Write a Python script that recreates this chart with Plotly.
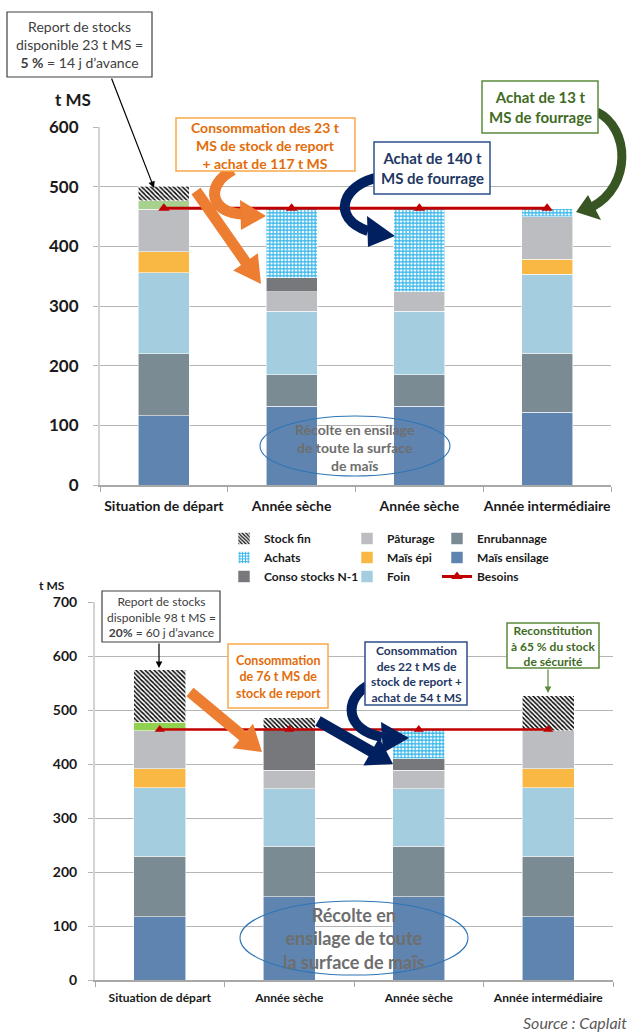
import math
import plotly.graph_objects as go

W, H = 630, 1032

# ---------------- data ----------------
categories = ["Situation de départ", "Année sèche", "Année sèche", "Année intermédiaire"]

top_mais_ensilage = [116, 132, 132, 122]
top_enrubannage = [104, 53, 53, 99]
top_foin = [136, 106, 106, 132]
top_mais_epi = [35, 0, 0, 25]
top_paturage = [71, 33, 33, 72]
top_conso_n1 = [0, 23, 0, 0]
top_achats = [0, 117, 140, 13]
top_securite = [14, 0, 0, 0]
top_stock_fin = [25, 0, 0, 0]
top_besoins = [464, 464, 464, 464]

bot_mais_ensilage = [117, 154, 154, 117]
bot_enrubannage = [112, 94, 94, 112]
bot_foin = [127, 106, 106, 127]
bot_mais_epi = [35, 0, 0, 35]
bot_paturage = [71, 34, 34, 71]
bot_conso_n1 = [0, 76, 22, 0]
bot_achats = [0, 0, 54, 0]
bot_securite = [15, 0, 0, 0]
bot_stock_fin = [98, 22, 0, 64]
bot_besoins = [464, 464, 464, 464]

top_ticks = [0, 100, 200, 300, 400, 500, 600]
bot_ticks = [0, 100, 200, 300, 400, 500, 600, 700]

# ---------------- helpers ----------------
FONT = "Lato"
def px(x):
    return x / W
def py(y):
    return 1 - y / H

def nz(vals):
    return [v if v else None for v in vals]

xpos = list(range(len(categories)))

series_styles = [
    # key, name, color, pattern, legend, rank
    ("mais_ensilage", "Maïs ensilage", "#5F84AF", None, "legend3", 2),
    ("enrubannage", "Enrubannage", "#7A8B94", None, "legend3", 1),
    ("foin", "Foin", "#A5CDE0", None, "legend2", 3),
    ("mais_epi", "Maïs épi", "#F9B844", None, "legend2", 2),
    ("paturage", "Pâturage", "#BCBDC1", None, "legend2", 1),
    ("conso_n1", "Conso stocks N-1", "#77787C", None, "legend", 3),
    ("achats", "Achats", "#2FB3EA", dict(shape="+", fgcolor="#2FB3EA", bgcolor="white", size=3.5, solidity=0.55), "legend", 2),
    ("securite", "Stock de sécurité", None, None, None, 9),
    ("stock_fin", "Stock fin", "#000000", dict(shape="\\", fgcolor="black", bgcolor="white", size=3.2, solidity=0.45), "legend", 1),
]

top_data = dict(mais_ensilage=top_mais_ensilage, enrubannage=top_enrubannage, foin=top_foin,
                mais_epi=top_mais_epi, paturage=top_paturage, conso_n1=top_conso_n1,
                achats=top_achats, securite=top_securite, stock_fin=top_stock_fin)
bot_data = dict(mais_ensilage=bot_mais_ensilage, enrubannage=bot_enrubannage, foin=bot_foin,
                mais_epi=bot_mais_epi, paturage=bot_paturage, conso_n1=bot_conso_n1,
                achats=bot_achats, securite=bot_securite, stock_fin=bot_stock_fin)

fig = go.Figure()

for panel, data, xa, ya, green in (("top", top_data, "x", "y", "#A9D18E"),
                                    ("bot", bot_data, "x2", "y2", "#92D050")):
    for key, name, color, pattern, leg, rank in series_styles:
        col = green if key == "securite" else color
        marker = dict(color=col if pattern is None else "white",
                      line=dict(width=0.8, color="rgba(255,255,255,0.7)"))
        if pattern is not None:
            marker["pattern"] = pattern
        show = (panel == "top") and leg is not None
        kw = dict(legend=leg, legendrank=rank) if show else {}
        fig.add_trace(go.Bar(x=xpos, y=nz(data[key]), name=name, marker=marker,
                             xaxis=xa, yaxis=ya, showlegend=show, hoverinfo="name+y", **kw))

fig.add_trace(go.Scatter(x=xpos, y=top_besoins, name="Besoins", mode="lines+markers",
                         line=dict(color="#C00000", width=3),
                         marker=dict(symbol="triangle-up", size=10, color="#C00000"),
                         xaxis="x", yaxis="y", legend="legend3", legendrank=3))
fig.add_trace(go.Scatter(x=xpos, y=bot_besoins, name="Besoins", mode="lines+markers",
                         line=dict(color="#C00000", width=2.5),
                         marker=dict(symbol="triangle-up", size=9, color="#C00000"),
                         xaxis="x2", yaxis="y2", showlegend=False))

# ---------------- axes ----------------
GRID = "#B5B5B5"
def xaxis_cfg(domain, size, standoff):
    return dict(domain=domain, range=[-0.5, 3.5], tickmode="array", tickvals=xpos,
                ticktext=categories, ticks="", showgrid=False, zeroline=False,
                showline=True, linecolor="#A8A8A8", linewidth=1.5,
                tickfont=dict(family=FONT, size=size, color="#1A1A1A", weight="bold"),
                ticklabelstandoff=standoff,
                minor=dict(tickmode="linear", tick0=-0.5, dtick=1, ticks="outside",
                           ticklen=5, tickcolor="#A8A8A8", tickwidth=1.2, showgrid=False),
                automargin=False, fixedrange=True)

def yaxis_cfg(domain, rng, ticks, size, standoff, anchor):
    return dict(domain=domain, range=rng, tickmode="array", tickvals=ticks,
                showgrid=True, gridcolor=GRID, gridwidth=1.3, zeroline=False,
                showline=True, linecolor="#D3D3D3", linewidth=2,
                ticks="outside", ticklen=5, tickcolor=GRID, tickwidth=1.3,
                tickfont=dict(family=FONT, size=size, color="#1A1A1A", weight="bold"),
                ticklabelstandoff=standoff, anchor=anchor,
                automargin=False, fixedrange=True)

legend_common = dict(bgcolor="rgba(0,0,0,0)", traceorder="normal", orientation="v",
                     xanchor="left", yanchor="top", itemwidth=30, tracegroupgap=0,
                     font=dict(family=FONT, size=12, color="#1A1A1A", weight="bold"))

fig.update_layout(
    width=W, height=H, autosize=False, template="none",
    margin=dict(l=0, r=0, t=0, b=0), paper_bgcolor="white", plot_bgcolor="white",
    barmode="stack", bargap=0.6,
    xaxis=xaxis_cfg([px(100), px(611)], 14, 7) | dict(anchor="y"),
    yaxis=yaxis_cfg([py(485), py(127)], [0, 600], top_ticks, 17, 11, "x"),
    xaxis2=xaxis_cfg([px(95), px(613)], 12, 6) | dict(anchor="y2"),
    yaxis2=yaxis_cfg([py(980), py(602)], [0, 700], bot_ticks, 14, 8, "x2"),
    legend=legend_common | dict(x=px(224), y=py(524)),
    legend2=legend_common | dict(x=px(347), y=py(524)),
    legend3=legend_common | dict(x=px(437), y=py(524)),
    showlegend=True,
)

# ---------------- decorations ----------------
shapes = []
annotations = []

def box(x0, y0, x1, y1, color, width=1.2):
    shapes.append(dict(type="rect", xref="paper", yref="paper",
                       x0=px(x0), x1=px(x1), y0=py(y1), y1=py(y0),
                       line=dict(color=color, width=width), fillcolor="white", layer="above"))

def text(x, y, t, size, color, bold=False, italic=False, xanchor="center"):
    if bold:
        t = "<b>" + t + "</b>"
    if italic:
        t = "<i>" + t + "</i>"
    annotations.append(dict(xref="paper", yref="paper", x=px(x), y=py(y), text=t,
                            showarrow=False, xanchor=xanchor, yanchor="middle",
                            font=dict(family=FONT, size=size, color=color), align="center"))

def ellipse(x0, y0, x1, y1, color):
    shapes.append(dict(type="circle", xref="paper", yref="paper",
                       x0=px(x0), x1=px(x1), y0=py(y1), y1=py(y0),
                       line=dict(color=color, width=1.1), layer="above"))

def path_str(pts, close=True):
    s = "M " + " L ".join(f"{px(a):.5f},{py(b):.5f}" for a, b in pts)
    return s + (" Z" if close else "")

def block_arrow(tail, tip, w, L, Wd, color):
    dx, dy = tip[0] - tail[0], tip[1] - tail[1]
    n = math.hypot(dx, dy)
    ux, uy = dx / n, dy / n
    nx, ny = -uy, ux
    bx, by = tip[0] - ux * L, tip[1] - uy * L
    pts = [(tail[0] + nx * w / 2, tail[1] + ny * w / 2),
           (bx + nx * w / 2, by + ny * w / 2),
           (bx + nx * Wd / 2, by + ny * Wd / 2),
           tip,
           (bx - nx * Wd / 2, by - ny * Wd / 2),
           (bx - nx * w / 2, by - ny * w / 2),
           (tail[0] - nx * w / 2, tail[1] - ny * w / 2)]
    shapes.append(dict(type="path", xref="paper", yref="paper", path=path_str(pts),
                       fillcolor=color, line=dict(width=0), layer="above"))

def curved_arrow(p0, c1, c2, p3, w, head, color):
    s = (f"M {px(p0[0]):.5f},{py(p0[1]):.5f} C {px(c1[0]):.5f},{py(c1[1]):.5f} "
         f"{px(c2[0]):.5f},{py(c2[1]):.5f} {px(p3[0]):.5f},{py(p3[1]):.5f}")
    shapes.append(dict(type="path", xref="paper", yref="paper", path=s,
                       line=dict(color=color, width=w), layer="above"))
    shapes.append(dict(type="path", xref="paper", yref="paper", path=path_str(head),
                       fillcolor=color, line=dict(width=0), layer="above"))

def thin_arrow(tail, tip, color, width=1.2):
    annotations.append(dict(xref="paper", yref="paper", x=px(tip[0]), y=py(tip[1]),
                            ax=tail[0] - tip[0], ay=tail[1] - tip[1], text="",
                            showarrow=True, arrowhead=2, arrowsize=1.1, arrowwidth=width,
                            arrowcolor=color))

ORANGE_T = "#E36C0A"
ORANGE_B = "#F9A94A"
ORANGE_A = "#ED7D31"
NAVY_T = "#1F3864"
NAVY_B = "#2F4F8F"
NAVY_A = "#002060"
GREEN_T = "#3F6B25"
GREEN_B = "#5B8A3C"
GREEN_A = "#375623"
ELL = "#2E75B6"
GRAYTXT = "#6E6E6E"

# ---- top chart ----
text(73, 100, "t MS", 17, "#1A1A1A", bold=True)

block_arrow((196, 191), (261, 284), 11, 27, 30, ORANGE_A)
curved_arrow((233, 170), (203, 186), (212, 214), (243, 214), 11,
             [(266, 216), (240, 200), (241, 230)], ORANGE_A)
curved_arrow((380, 177), (342, 184), (330, 218), (368, 231), 10,
             [(395, 236), (367, 216), (368, 247)], NAVY_A)
curved_arrow((597, 112), (630, 128), (632, 186), (592, 207), 9,
             [(576, 212), (588, 195), (601, 220)], GREEN_A)

box(7, 12, 152, 77, "#404040")
text(79.5, 44.5, "Report de stocks<br>disponible 23 t MS =<br><b>5 %</b> = 14 j d’avance", 14, "#404040")
thin_arrow((111, 77), (154, 188), "#000000")

box(176, 118, 355, 171, ORANGE_B, 1.5)
text(265.5, 145, "Consommation des 23 t<br>MS de stock de report<br>+ achat de 117 t MS", 14, ORANGE_T, bold=True)

box(374, 142, 490, 194, NAVY_B, 1.5)
text(432, 168.5, "Achat de 140 t<br>MS de fourrage", 15, NAVY_T, bold=True)

box(482, 81, 598, 133, GREEN_B, 1.5)
text(540, 107.5, "Achat de 13 t<br>MS de fourrage", 15, GREEN_T, bold=True)

ellipse(260, 416, 450, 476, ELL)
text(355, 447, "Récolte en ensilage<br>de toute la surface<br>de maïs", 14, GRAYTXT, bold=True)

# ---- bottom chart ----
text(52, 585, "t MS", 12, "#1A1A1A", bold=True)

block_arrow((190, 692), (262, 752), 11, 25, 32, ORANGE_A)
block_arrow((318, 721), (393, 764), 11, 25, 32, NAVY_A)
curved_arrow((367, 686), (344, 700), (345, 730), (382, 737), 10,
             [(409, 738), (381, 722), (383, 753)], NAVY_A)

box(102, 591, 220, 642, "#404040")
text(161, 617, "Report de stocks<br>disponible 98 t MS =<br><b>20%</b> = 60 j d’avance", 12, "#404040")
thin_arrow((159, 642), (159, 668), "#000000")

box(228, 644, 328, 708, ORANGE_B, 1.5)
text(278, 676.5, "Consommation<br>de 76 t MS de<br>stock de report", 12.5, ORANGE_T, bold=True)

box(365, 642, 467, 705, NAVY_B, 1.5)
text(416, 674, "Consommation<br>des 22 t MS de<br>stock de report +<br>achat de 54 t MS", 12, NAVY_T, bold=True)

box(507, 623, 599, 668, GREEN_B, 1.5)
text(553, 646, "Reconstitution<br>à 65 % du stock<br>de sécurité", 12, GREEN_T, bold=True)
thin_arrow((548, 668), (548, 693), GREEN_B)

ellipse(240, 901, 468, 975, ELL)
text(354, 938.5, "Récolte en<br>ensilage de toute<br>la surface de maïs", 18, GRAYTXT, bold=True)

text(629, 1022, "Source : Caplait", 16, "#595959", italic=True, xanchor="right")

fig.update_layout(shapes=shapes, annotations=annotations)

fig.write_html("out.html")
